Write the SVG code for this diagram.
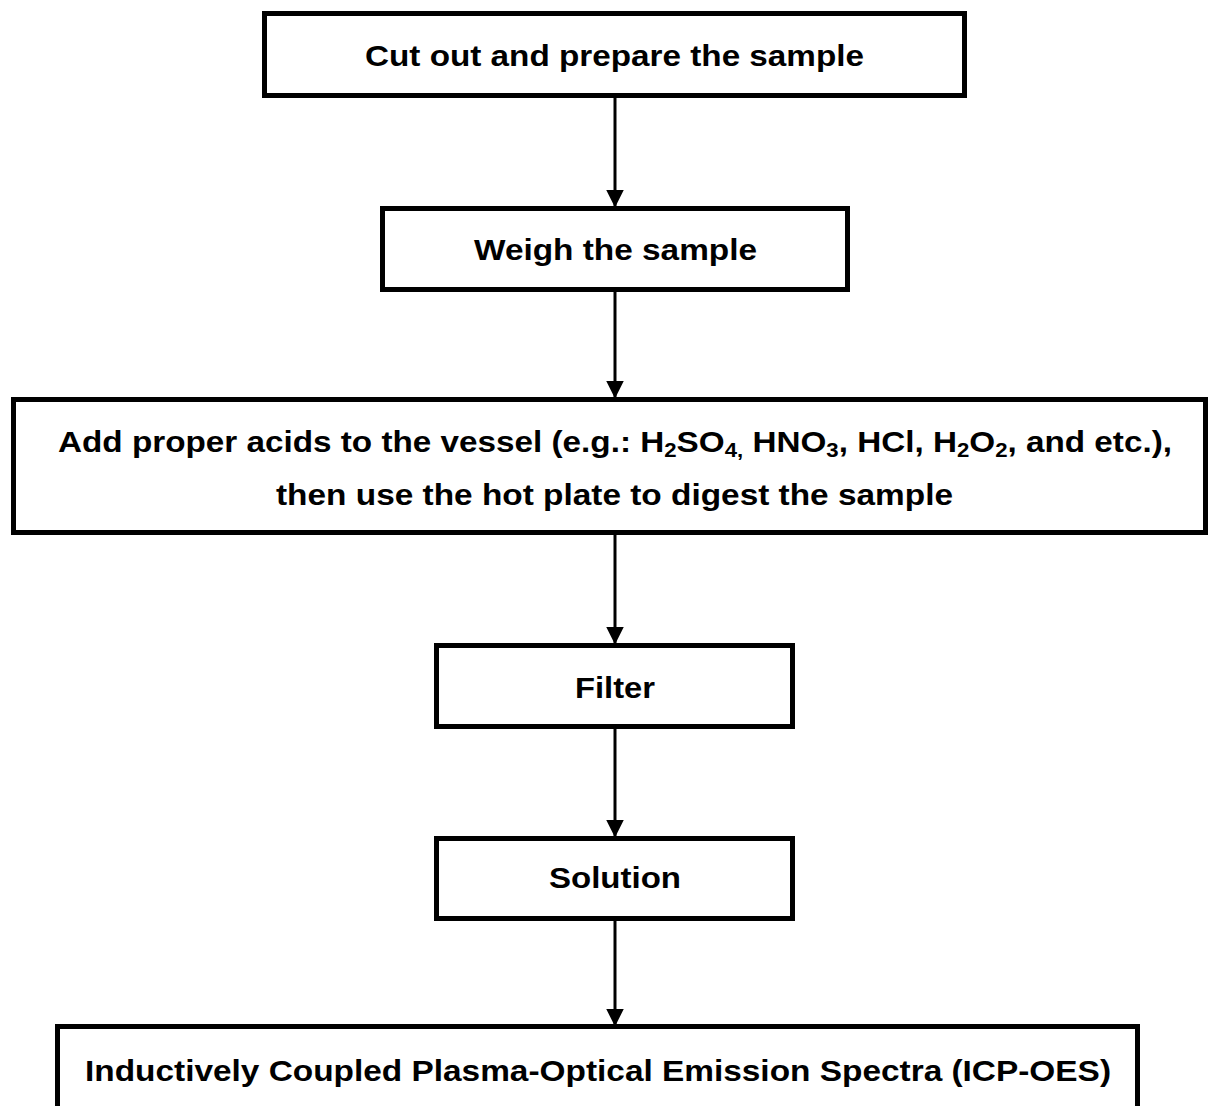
<svg xmlns="http://www.w3.org/2000/svg" width="1208" height="1106" viewBox="0 0 1208 1106">
<style>
.box{fill:#fff;stroke:#000;stroke-width:5}
.t{font-family:"Liberation Sans",Arial,sans-serif;font-weight:bold;font-size:30px;fill:#000;text-anchor:middle}
.sub{font-size:20px}
.conn{stroke:#000;stroke-width:3;fill:none}
</style>
<defs>
<marker id="ah" markerWidth="6" markerHeight="6" refX="5.5" refY="3" orient="auto" markerUnits="strokeWidth">
<path d="M0,0 L6,3 L0,6 Z" fill="#000"/>
</marker>
</defs>
<rect x="0" y="0" width="1208" height="1106" fill="#fff"/>
<g id="connectors">
<line class="conn" x1="615" y1="98" x2="615" y2="206" marker-end="url(#ah)"/>
<line class="conn" x1="615" y1="292" x2="615" y2="397" marker-end="url(#ah)"/>
<line class="conn" x1="615" y1="535" x2="615" y2="643" marker-end="url(#ah)"/>
<line class="conn" x1="615" y1="729" x2="615" y2="836" marker-end="url(#ah)"/>
<line class="conn" x1="615" y1="921" x2="615" y2="1025" marker-end="url(#ah)"/>
</g>
<g id="n1">
<rect class="box" x="264.5" y="13.5" width="700" height="82"/>
<text class="t" x="614.5" y="66" textLength="499" lengthAdjust="spacingAndGlyphs">Cut out and prepare the sample</text>
</g>
<g id="n2">
<rect class="box" x="382.5" y="208.5" width="465" height="81"/>
<text class="t" x="615.5" y="260" textLength="283" lengthAdjust="spacingAndGlyphs">Weigh the sample</text>
</g>
<g id="n3">
<rect class="box" x="13.5" y="399.5" width="1192" height="133"/>
<text class="t" x="615" y="452" textLength="1114" lengthAdjust="spacingAndGlyphs">Add proper acids to the vessel (e.g.: H<tspan class="sub" dy="5">2</tspan><tspan dy="-5">SO</tspan><tspan class="sub" dy="5">4,</tspan><tspan dy="-5"> HNO</tspan><tspan class="sub" dy="5">3</tspan><tspan dy="-5">, HCl, H</tspan><tspan class="sub" dy="5">2</tspan><tspan dy="-5">O</tspan><tspan class="sub" dy="5">2</tspan><tspan dy="-5">, and etc.),</tspan></text>
<text class="t" x="614.5" y="505" textLength="677" lengthAdjust="spacingAndGlyphs">then use the hot plate to digest the sample</text>
</g>
<g id="n4">
<rect class="box" x="436.5" y="645.5" width="356" height="81"/>
<text class="t" x="615" y="698" textLength="80" lengthAdjust="spacingAndGlyphs">Filter</text>
</g>
<g id="n5">
<rect class="box" x="436.5" y="838.5" width="356" height="80"/>
<text class="t" x="615" y="888" textLength="132" lengthAdjust="spacingAndGlyphs">Solution</text>
</g>
<g id="n6">
<rect class="box" x="57.5" y="1026.5" width="1080" height="90"/>
<text class="t" x="598" y="1081" textLength="1026" lengthAdjust="spacingAndGlyphs">Inductively Coupled Plasma-Optical Emission Spectra (ICP-OES)</text>
</g>
</svg>
